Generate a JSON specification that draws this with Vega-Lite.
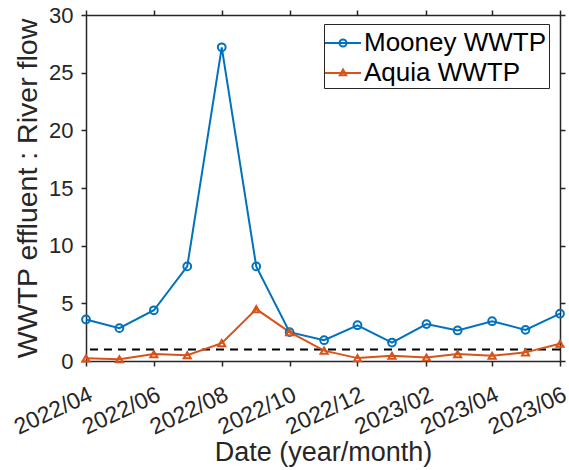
{
  "$schema": "https://vega.github.io/schema/vega-lite/v6.json",
  "width": 474,
  "height": 346,
  "autosize": "none",
  "padding": {"left": 86, "top": 15, "right": 9, "bottom": 109},
  "background": "white",
  "config": {
    "font": "Liberation Sans",
    "view": {"stroke": null},
    "axis": {
      "domainColor": "#262626",
      "domainWidth": 1.5,
      "tickColor": "#262626",
      "tickWidth": 1.5,
      "tickSize": 5,
      "grid": false,
      "labelColor": "#262626",
      "labelFontSize": 22,
      "titleFontSize": 27,
      "titleFontWeight": "normal",
      "titleColor": "#262626"
    },
    "legend": {
      "labelFontSize": 26,
      "labelColor": "black",
      "labelOffset": 4,
      "labelLimit": 400,
      "strokeColor": "#262626",
      "fillColor": "white",
      "padding": 2,
      "rowPadding": 0,
      "symbolSize": 1024,
      "symbolStrokeWidth": 2,
      "symbolOpacity": 1,
      "cornerRadius": 0
    }
  },
  "datasets": {
    "series": [
      {"date": "2022/04/01", "site": "Mooney WWTP", "ratio": 3.6},
      {"date": "2022/05/01", "site": "Mooney WWTP", "ratio": 2.85},
      {"date": "2022/06/01", "site": "Mooney WWTP", "ratio": 4.4},
      {"date": "2022/07/01", "site": "Mooney WWTP", "ratio": 8.2},
      {"date": "2022/08/01", "site": "Mooney WWTP", "ratio": 27.2},
      {"date": "2022/09/01", "site": "Mooney WWTP", "ratio": 8.2},
      {"date": "2022/10/01", "site": "Mooney WWTP", "ratio": 2.5},
      {"date": "2022/11/01", "site": "Mooney WWTP", "ratio": 1.8},
      {"date": "2022/12/01", "site": "Mooney WWTP", "ratio": 3.1},
      {"date": "2023/01/01", "site": "Mooney WWTP", "ratio": 1.6},
      {"date": "2023/02/01", "site": "Mooney WWTP", "ratio": 3.2},
      {"date": "2023/03/01", "site": "Mooney WWTP", "ratio": 2.65},
      {"date": "2023/04/01", "site": "Mooney WWTP", "ratio": 3.45},
      {"date": "2023/05/01", "site": "Mooney WWTP", "ratio": 2.7},
      {"date": "2023/06/01", "site": "Mooney WWTP", "ratio": 4.1},
      {"date": "2022/04/01", "site": "Aquia WWTP", "ratio": 0.23},
      {"date": "2022/05/01", "site": "Aquia WWTP", "ratio": 0.15},
      {"date": "2022/06/01", "site": "Aquia WWTP", "ratio": 0.6},
      {"date": "2022/07/01", "site": "Aquia WWTP", "ratio": 0.5},
      {"date": "2022/08/01", "site": "Aquia WWTP", "ratio": 1.55},
      {"date": "2022/09/01", "site": "Aquia WWTP", "ratio": 4.5},
      {"date": "2022/10/01", "site": "Aquia WWTP", "ratio": 2.5},
      {"date": "2022/11/01", "site": "Aquia WWTP", "ratio": 0.9},
      {"date": "2022/12/01", "site": "Aquia WWTP", "ratio": 0.25},
      {"date": "2023/01/01", "site": "Aquia WWTP", "ratio": 0.45},
      {"date": "2023/02/01", "site": "Aquia WWTP", "ratio": 0.3},
      {"date": "2023/03/01", "site": "Aquia WWTP", "ratio": 0.6},
      {"date": "2023/04/01", "site": "Aquia WWTP", "ratio": 0.45},
      {"date": "2023/05/01", "site": "Aquia WWTP", "ratio": 0.75},
      {"date": "2023/06/01", "site": "Aquia WWTP", "ratio": 1.5}
    ],
    "ref": [{"ratio": 1}]
  },
  "layer": [
    {
      "data": {"name": "ref"},
      "mark": {"type": "rule", "strokeDash": [8, 6], "strokeWidth": 2, "color": "black"},
      "encoding": {
        "y": {"field": "ratio", "type": "quantitative", "scale": {"domain": [0, 30]}, "axis": null}
      }
    },
    {
      "data": {"name": "series"},
      "mark": {"type": "line", "strokeWidth": 2},
      "encoding": {
        "x": {
          "field": "date", "type": "temporal",
          "scale": {"domain": [{"year": 2022, "month": 4, "date": 1}, {"year": 2023, "month": 6, "date": 1}]},
          "axis": {
            "orient": "bottom",
            "title": "Date (year/month)",
            "format": "%Y/%m",
            "values": [
              {"year": 2022, "month": 4, "date": 1}, {"year": 2022, "month": 6, "date": 1},
              {"year": 2022, "month": 8, "date": 1}, {"year": 2022, "month": 10, "date": 1},
              {"year": 2022, "month": 12, "date": 1}, {"year": 2023, "month": 2, "date": 1},
              {"year": 2023, "month": 4, "date": 1}, {"year": 2023, "month": 6, "date": 1}
            ],
            "labelAngle": -25,
            "labelAlign": "right",
            "labelBaseline": "top",
            "labelFontSize": 23,
            "labelPadding": 17,
            "labelOffset": 0,
            "labelFlush": false,
            "labelOverlap": false,
            "titlePadding": 1
          }
        },
        "y": {
          "field": "ratio", "type": "quantitative",
          "scale": {"domain": [0, 30]},
          "axis": {"orient": "left", "title": "WWTP effluent : River flow", "values": [0, 5, 10, 15, 20, 25, 30], "labelPadding": 8, "titlePadding": 6, "titleFontSize": 28.5}
        },
        "color": {
          "field": "site", "type": "nominal",
          "scale": {"domain": ["Mooney WWTP", "Aquia WWTP"], "range": ["#0072BD", "#D95319"]},
          "legend": {"title": null, "orient": "none", "legendX": 238, "legendY": 9}
        }
      }
    },
    {
      "data": {"name": "series"},
      "transform": [{"filter": {"field": "site", "equal": "Mooney WWTP"}}],
      "mark": {"type": "point", "shape": "circle", "filled": false, "strokeWidth": 2, "size": 60, "opacity": 1},
      "encoding": {
        "x": {
          "field": "date", "type": "temporal",
          "scale": {"domain": [{"year": 2022, "month": 4, "date": 1}, {"year": 2023, "month": 6, "date": 1}]},
          "axis": {
            "orient": "top", "title": null, "labels": false,
            "values": [
              {"year": 2022, "month": 4, "date": 1}, {"year": 2022, "month": 6, "date": 1},
              {"year": 2022, "month": 8, "date": 1}, {"year": 2022, "month": 10, "date": 1},
              {"year": 2022, "month": 12, "date": 1}, {"year": 2023, "month": 2, "date": 1},
              {"year": 2023, "month": 4, "date": 1}, {"year": 2023, "month": 6, "date": 1}
            ]
          }
        },
        "y": {
          "field": "ratio", "type": "quantitative",
          "scale": {"domain": [0, 30]},
          "axis": {"orient": "right", "title": null, "labels": false, "values": [0, 5, 10, 15, 20, 25, 30]}
        },
        "color": {
          "field": "site", "type": "nominal",
          "scale": {"domain": ["Mooney WWTP", "Aquia WWTP"], "range": ["#0072BD", "#D95319"]},
          "legend": {"title": null, "orient": "none", "legendX": 238, "legendY": 9}
        }
      }
    },
    {
      "data": {"name": "series"},
      "transform": [{"filter": {"field": "site", "equal": "Aquia WWTP"}}],
      "mark": {"type": "point", "shape": "triangle-up", "filled": false, "strokeWidth": 2, "size": 50, "opacity": 1},
      "encoding": {
        "x": {"field": "date", "type": "temporal", "axis": null},
        "y": {"field": "ratio", "type": "quantitative", "axis": null},
        "color": {
          "field": "site", "type": "nominal",
          "scale": {"domain": ["Mooney WWTP", "Aquia WWTP"], "range": ["#0072BD", "#D95319"]},
          "legend": {"title": null, "orient": "none", "legendX": 238, "legendY": 9}
        }
      }
    },
    {
      "data": {"name": "series"},
      "mark": {"type": "point", "filled": false, "strokeWidth": 2, "opacity": 0},
      "encoding": {
        "x": {"field": "date", "type": "temporal", "axis": null},
        "y": {"field": "ratio", "type": "quantitative", "axis": null},
        "color": {
          "field": "site", "type": "nominal",
          "scale": {"domain": ["Mooney WWTP", "Aquia WWTP"], "range": ["#0072BD", "#D95319"]},
          "legend": {"title": null, "orient": "none", "legendX": 238, "legendY": 9}
        },
        "shape": {
          "field": "site", "type": "nominal",
          "scale": {"domain": ["Mooney WWTP", "Aquia WWTP"], "range": ["M-1.125,0H1.125M0.22,0A0.22,0.22,0,1,1,-0.22,0A0.22,0.22,0,1,1,0.22,0", "M-1.125,0H1.125M0,-0.22L0.2,0.14L-0.2,0.14Z"]},
          "legend": {"title": null, "orient": "none", "legendX": 238, "legendY": 9}
        }
      }
    }
  ],
  "resolve": {"axis": {"x": "independent", "y": "independent"}}
}
